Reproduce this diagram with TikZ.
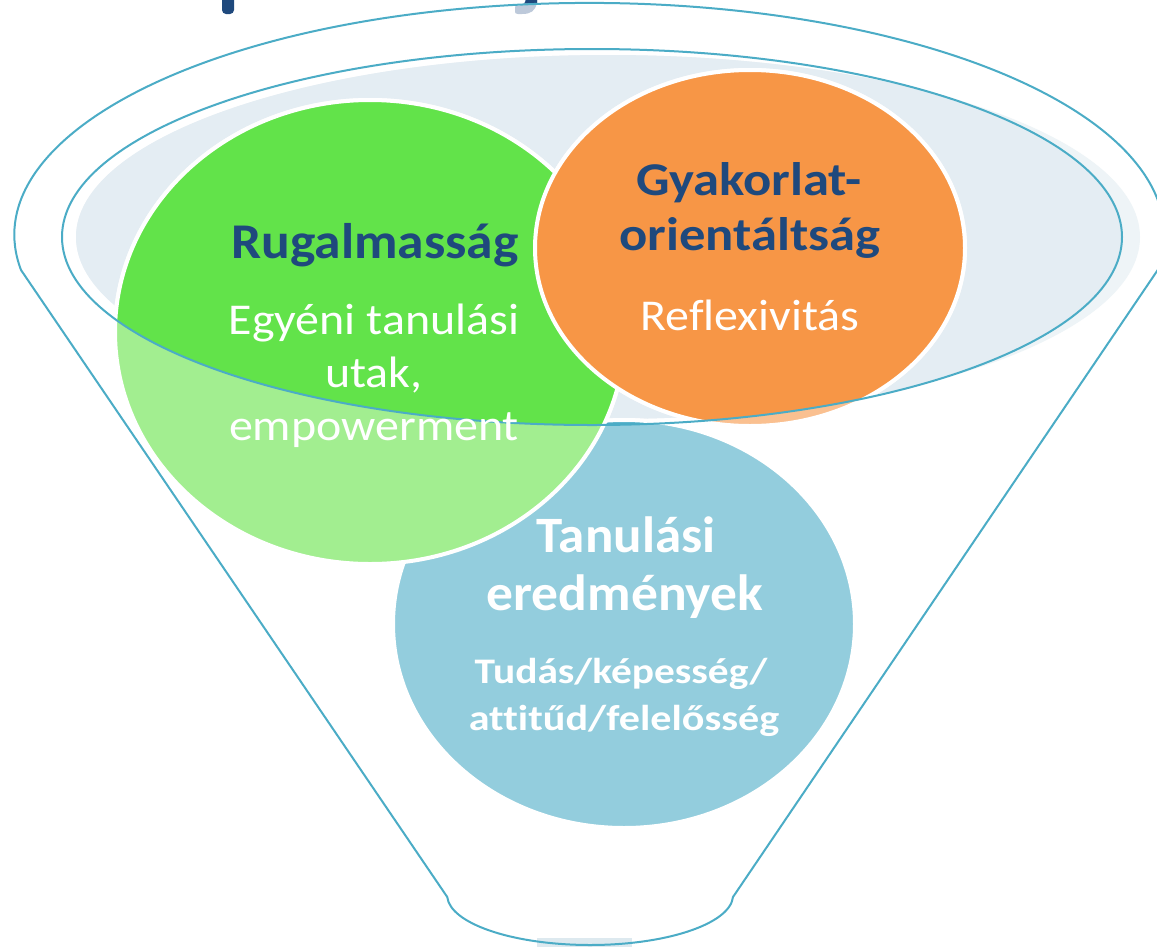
\documentclass[tikz,border=0pt]{standalone}
\usepackage{graphicx}
\usepackage{fontspec}
\setmainfont{Carlito}[Ligatures=NoCommon]
\definecolor{dkblue}{HTML}{1F497D}
\definecolor{greyblue}{HTML}{7B94B5}
\definecolor{teal}{HTML}{4BACC6}
\definecolor{fillA}{HTML}{EEF4F7}
\definecolor{fillB}{HTML}{E4EDF3}
\definecolor{greenV}{HTML}{62E34A}
\definecolor{greenL}{HTML}{A2EE90}
\definecolor{orangeV}{HTML}{F79646}
\definecolor{orangeL}{HTML}{FAC090}
\definecolor{blueL}{HTML}{93CDDD}
\definecolor{blueV}{HTML}{4BACC6}
\definecolor{stub}{HTML}{DDE9EF}
\newcommand{\hstretch}[2]{\scalebox{#1}[1]{#2}}
\tikzset{
  outline/.style={draw=teal, line width=2},
  disc/.style={draw=white, line width=4},
  head/.style={anchor=base, inner sep=0, text=dkblue, font=\bfseries\fontsize{50}{60}\selectfont},
  sub/.style={anchor=base, inner sep=0, text=white, font=\fontsize{44}{53}\selectfont},
  bhead/.style={anchor=base, inner sep=0, text=white, font=\bfseries\fontsize{51}{60}\selectfont},
  bsub/.style={anchor=base, inner sep=0, text=white, font=\bfseries\fontsize{36}{44}\selectfont}
}
\begin{document}
\begin{tikzpicture}[x=1pt,y=-1pt]
\useasboundingbox (0,0) rectangle (1157,946);
% cut-off title fragments
\fill[dkblue, rounded corners=4] (222,-10) rectangle (234,14);
\fill[greyblue] (526,-1) -- (537,-1) -- (537,3) .. controls (535,11) and (531,14) .. (522,14) -- (518,14) .. controls (515.5,14) and (515,13) .. (515,11.5) -- (515,7) .. controls (515,6) and (516,5.5) .. (518,5.5) -- (520,5.5) .. controls (523,5.5) and (525,3) .. (526,-1) -- cycle;
\fill[dkblue] (526,-1) -- (537,-1) -- (537,3) -- (525,3) -- cycle;
% funnel body
\path[fill=white, fill opacity=0.5] (21,270) arc[start angle=171.3, end angle=368.7, x radius=575, y radius=232] -- (733,897) arc[start angle=2.3, end angle=177.7, x radius=143, y radius=50] -- cycle;
% bottom stub
\fill[stub] (537,938) rectangle (632,947);
% inner ellipse fill
\fill[fillA] (608,237) ellipse[x radius=532, y radius=182];
\begin{scope}
  \clip (592,237) ellipse[x radius=530, y radius=188];
  \fill[fillB] (608,237) ellipse[x radius=532, y radius=182];
\end{scope}
% circles, light layer
\path[disc, fill=blueL] (624,624) ellipse[x radius=231, y radius=204];
\path[disc, fill=greenL] (370,332) ellipse[x radius=255, y radius=232];
\path[disc, fill=orangeL] (750,248) ellipse[x radius=215, y radius=178];
% circles, vivid layer inside the ellipse
\begin{scope}
  \clip (592,237) ellipse[x radius=530, y radius=188];
  \path[disc, fill=blueV] (624,624) ellipse[x radius=231, y radius=204];
  \path[disc, fill=greenV] (370,332) ellipse[x radius=255, y radius=232];
  \path[disc, fill=orangeV] (750,248) ellipse[x radius=215, y radius=178];
\end{scope}
% outlines
\draw[outline] (592,237) ellipse[x radius=530, y radius=188];
\draw[outline] (21,270) arc[start angle=171.3, end angle=368.7, x radius=575, y radius=232] -- (733,897) arc[start angle=2.3, end angle=177.7, x radius=143, y radius=50] -- cycle;
% texts
\node[head] (rug) at (375,258) {\hstretch{1.07}{Rugalmasság}};
\node[sub] (egy) at (374,334) {\hstretch{1.09}{Egyéni tanulási}};
\node[sub] (uta) at (374,387) {\hstretch{1.09}{utak,}};
\node[sub] (emp) at (374,440) {\hstretch{1.09}{empowerment}};
\node[head, font=\bfseries\fontsize{47}{56}\selectfont] (gya) at (749,195) {\hstretch{1.12}{Gyakorlat-}};
\node[head, font=\bfseries\fontsize{47}{56}\selectfont] (ori) at (750,250) {\hstretch{1.12}{orientáltság}};
\node[sub] (ref) at (750,330) {\hstretch{1.09}{Reflexivitás}};
\node[bhead] (tan) at (626,552) {\hstretch{1.04}{Tanulási}};
\node[bhead] (ere) at (625,610) {\hstretch{1.05}{eredmények}};
\node[bsub] (tud) at (621,683) {\hstretch{1.15}{Tudás/képesség/}};
\node[bsub] (att) at (624,730) {\hstretch{1.17}{attitűd/felelősség}};
\end{tikzpicture}
\end{document}
